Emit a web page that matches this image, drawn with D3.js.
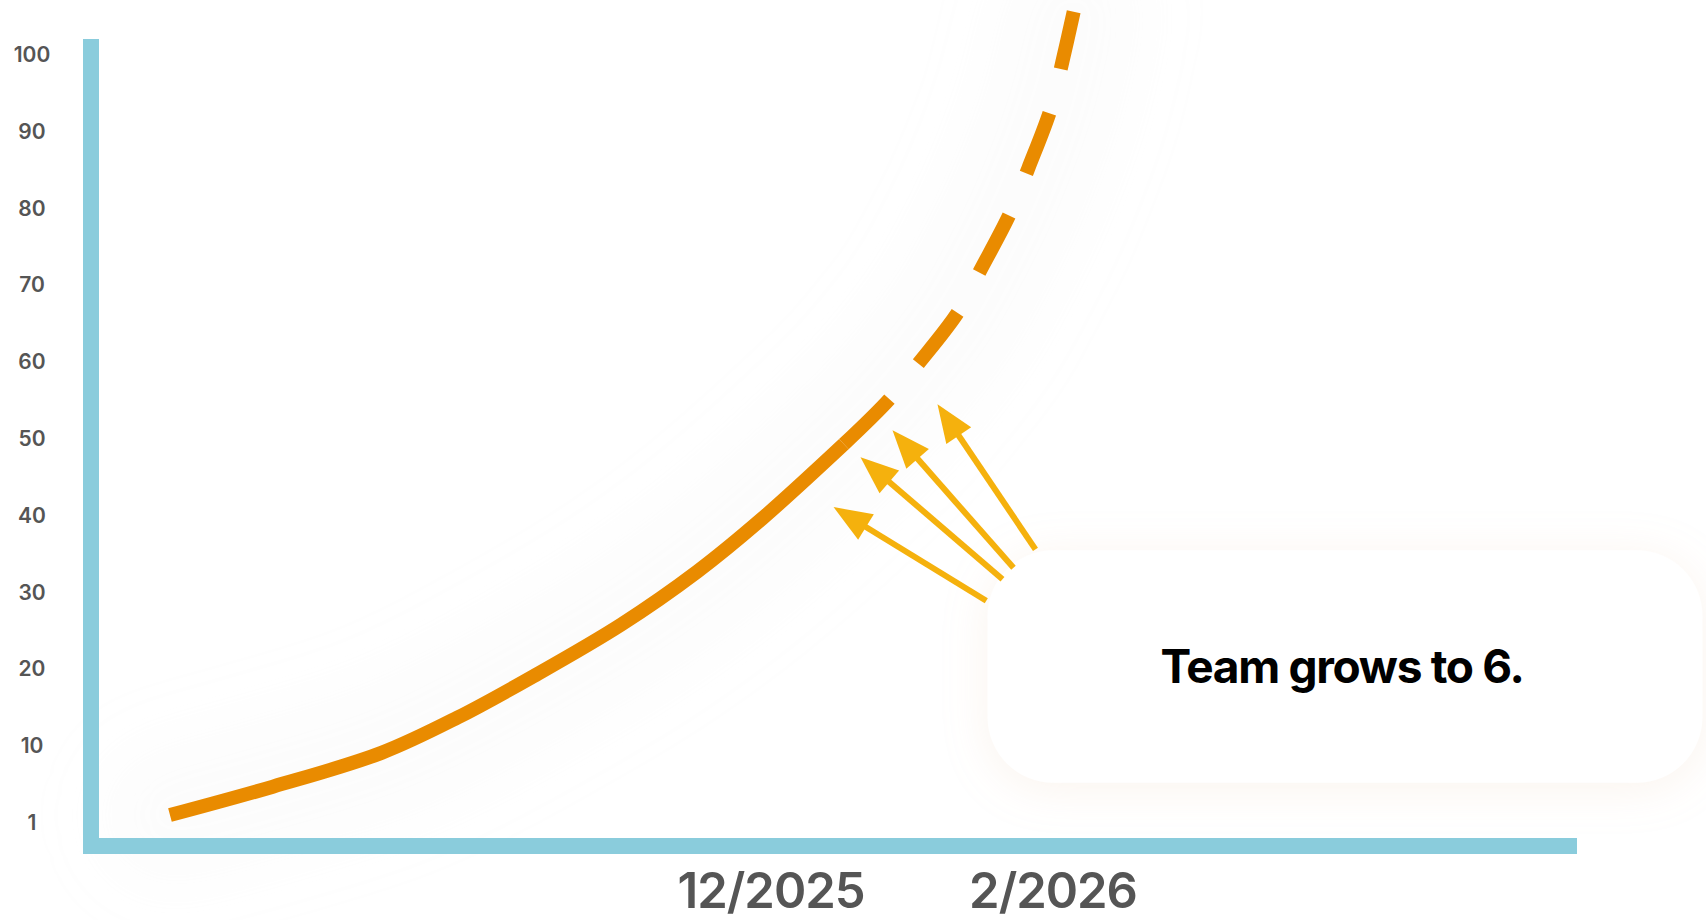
<!DOCTYPE html>
<html>
<head>
<meta charset="utf-8">
<script src="https://cdn.jsdelivr.net/npm/d3@7/dist/d3.min.js"></script>
<style>
  html, body { margin: 0; padding: 0; background: #ffffff; }
  svg { display: block; }
</style>
</head>
<body>
<svg id="chart" width="1706" height="920"></svg>
<script>
// ---------------- DATA ----------------
// x in months relative to 12/2025 (0 = 12/2025), y = value
const yTickValues = [0, 10, 20, 30, 40, 50, 60, 70, 80, 90, 100];
const yTickLabels = ["1", "10", "20", "30", "40", "50", "60", "70", "80", "90", "100"];
const xTickValues = [0, 2];
const xTickLabels = ["12/2025", "2/2026"];

const actualMonths = [-4.26, -3.53, -2.76, -2.22, -1.68, -1.06, -0.52, -0.06, 0.52];
const actualValues = [0.9, 4.6, 9.0, 13.6, 19.0, 25.7, 32.6, 39.5, 49.2];

const projMonths = [0.52, 0.84, 1.04, 1.33, 1.49, 1.70, 1.83, 1.99, 2.07, 2.15];
const projValues = [49.2, 55.0, 59.5, 66.4, 71.9, 79.3, 85.2, 93.0, 99.0, 105.5];

// annotation arrows: tail (month, value) -> tip (month, value)
const arrowTailMonths = [1.53, 1.645, 1.723, 1.879];
const arrowTailValues = [28.8, 31.6, 33.1, 35.5];
const arrowTipMonths = [0.447, 0.638, 0.865, 1.184];
const arrowTipValues = [41.0, 47.5, 51.0, 54.4];

// callout box extent in data units and text
const calloutMonths = [1.539, 6.61];
const calloutValues = [35.4, 5.1];
const calloutText = "Team grows to 6.";

// ---------------- LAYOUT ----------------
const svg = d3.select("#chart");
const axisColor = "#8ACCDC";
const lineColor = "#E98B00";
const arrowColor = "#F5B10D";
const labelColor = "#555555";

const axisX = 91, axisTop = 39, axisBottomY = 846, axisRight = 1577, axisW = 16;

const x = d3.scaleLinear().domain([-4.82, 5.72]).range([axisX, axisRight]);
const y = d3.scaleLinear().domain([0, 100]).range([822, 54]);

const defs = svg.append("defs");
const glow = defs.append("filter").attr("id", "glow")
  .attr("x", "-50%").attr("y", "-50%").attr("width", "200%").attr("height", "200%");
glow.append("feGaussianBlur").attr("stdDeviation", 30);

const boxShadow = defs.append("filter").attr("id", "boxShadow")
  .attr("x", "-30%").attr("y", "-40%").attr("width", "160%").attr("height", "180%");
boxShadow.append("feDropShadow").attr("dx", 0).attr("dy", 6)
  .attr("stdDeviation", 22).attr("flood-color", "#e8c9a8").attr("flood-opacity", 0.2);

const actual = actualMonths.map((m, i) => ({ m, v: actualValues[i] }));
const proj = projMonths.map((m, i) => ({ m, v: projValues[i] }));

const line = d3.line().x(d => x(d.m)).y(d => y(d.v)).curve(d3.curveCatmullRom.alpha(0.5));

// very soft glow behind the curve
svg.append("path")
  .attr("d", line(actual.concat(proj.slice(1))))
  .attr("fill", "none")
  .attr("stroke", "#e0e0e0")
  .attr("stroke-opacity", 0.1)
  .attr("stroke-width", 150)
  .attr("stroke-linecap", "round")
  .attr("filter", "url(#glow)");

// ---------------- AXES ----------------
svg.append("rect")
  .attr("x", axisX - axisW / 2).attr("y", axisTop)
  .attr("width", axisW).attr("height", axisBottomY + axisW / 2 - axisTop)
  .attr("fill", axisColor);
svg.append("rect")
  .attr("x", axisX - axisW / 2).attr("y", axisBottomY - axisW / 2)
  .attr("width", axisRight - (axisX - axisW / 2)).attr("height", axisW)
  .attr("fill", axisColor);

const yAxis = d3.axisLeft(y)
  .tickValues(yTickValues)
  .tickFormat((d, i) => yTickLabels[i])
  .tickSize(0).tickPadding(0);
const gy = svg.append("g").attr("transform", "translate(32,0)").call(yAxis);
gy.select(".domain").remove();
gy.selectAll("text")
  .attr("x", 0)
  .attr("text-anchor", "middle")
  .attr("dy", "0.36em")
  .attr("fill", labelColor)
  .style("font-family", "Inter, 'Noto Sans', sans-serif")
  .style("font-weight", 600)
  .style("font-size", "21px");

const xAxis = d3.axisBottom(x)
  .tickValues(xTickValues)
  .tickFormat((d, i) => xTickLabels[i])
  .tickSize(0).tickPadding(0);
const gx = svg.append("g").attr("transform", `translate(0,${axisBottomY})`).call(xAxis);
gx.select(".domain").remove();
gx.selectAll("text")
  .attr("y", 62)
  .attr("dy", 0)
  .attr("fill", labelColor)
  .style("font-family", "Inter, 'Noto Sans', sans-serif")
  .style("font-weight", 600)
  .style("font-size", "49px")
  .style("letter-spacing", "-1px");

// ---------------- LINES ----------------
svg.append("path")
  .attr("d", line(actual))
  .attr("fill", "none")
  .attr("stroke", lineColor)
  .attr("stroke-width", 14)
  .attr("stroke-linecap", "butt")
  .attr("stroke-linejoin", "round");

svg.append("path")
  .attr("d", line(proj))
  .attr("fill", "none")
  .attr("stroke", lineColor)
  .attr("stroke-width", 14)
  .attr("stroke-linecap", "butt")
  .attr("stroke-dasharray", "64 46");

// ---------------- CALLOUT BOX ----------------
const bx0 = x(calloutMonths[0]), bx1 = x(calloutMonths[1]);
const by0 = y(calloutValues[0]), by1 = y(calloutValues[1]);
svg.append("rect")
  .attr("x", bx0).attr("y", by0)
  .attr("width", bx1 - bx0).attr("height", by1 - by0)
  .attr("rx", 66).attr("ry", 66)
  .attr("fill", "#ffffff")
  .attr("filter", "url(#boxShadow)");

svg.append("text")
  .attr("x", (bx0 + bx1) / 2 - 3)
  .attr("y", (by0 + by1) / 2 + 17)
  .attr("text-anchor", "middle")
  .attr("fill", "#000000")
  .style("font-family", "Inter, 'Noto Sans', sans-serif")
  .style("font-weight", 700)
  .style("font-size", "46px")
  .style("letter-spacing", "-1.3px")
  .text(calloutText);

// ---------------- ARROWS ----------------
const headLen = 38, headW = 30, shaftW = 6;
const arrows = arrowTailMonths.map((m, i) => ({
  x0: x(m), y0: y(arrowTailValues[i]),
  x1: x(arrowTipMonths[i]), y1: y(arrowTipValues[i])
}));
const ga = svg.append("g");
arrows.forEach(a => {
  const dx = a.x1 - a.x0, dy = a.y1 - a.y0;
  const len = Math.hypot(dx, dy);
  const ux = dx / len, uy = dy / len;
  const bx = a.x1 - ux * headLen, by = a.y1 - uy * headLen;
  ga.append("line")
    .attr("x1", a.x0).attr("y1", a.y0)
    .attr("x2", bx + ux * 2).attr("y2", by + uy * 2)
    .attr("stroke", arrowColor).attr("stroke-width", shaftW);
  const px = -uy, py = ux;
  ga.append("path")
    .attr("d", `M${a.x1},${a.y1}L${bx + px * headW / 2},${by + py * headW / 2}L${bx - px * headW / 2},${by - py * headW / 2}Z`)
    .attr("fill", arrowColor);
});
</script>
</body>
</html>
